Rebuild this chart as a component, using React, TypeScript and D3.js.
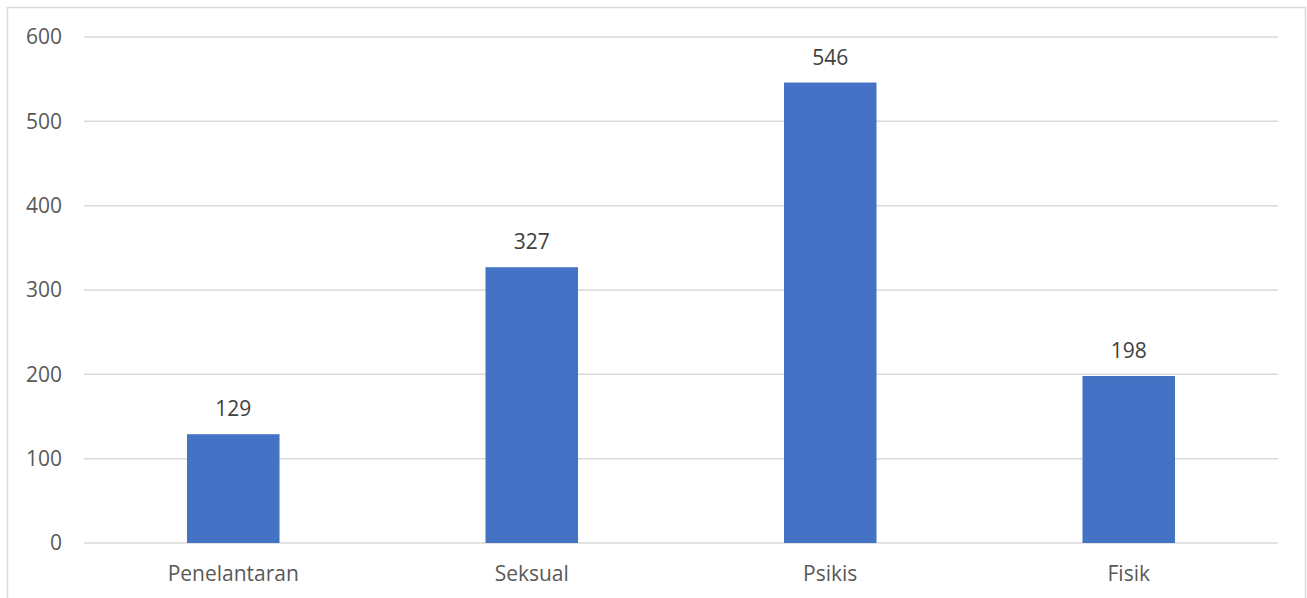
import React from "react";
import * as d3 from "d3";

const categories = ["Penelantaran", "Seksual", "Psikis", "Fisik"];
const values = [129, 327, 546, 198];
const yTicks = [0, 100, 200, 300, 400, 500, 600];

const W = 1307;
const H = 598;
const margin = { left: 84, right: 29, top: 37, bottom: 55 };
const FONT = "'Open Sans', 'Noto Sans', sans-serif";
const FS = 21;

export default function App() {
  const x = d3
    .scaleBand<string>()
    .domain(categories)
    .range([margin.left, W - margin.right])
    .paddingInner(0.69)
    .paddingOuter(0.345);
  const y = d3.scaleLinear().domain([0, 600]).range([H - margin.bottom, margin.top]);
  const band = d3
    .scaleBand<string>()
    .domain(categories)
    .range([margin.left, W - margin.right]);

  return (
    <svg
      width={W}
      height={H}
      style={{ position: "absolute", left: 0, top: 0, background: "#fff" }}
    >
      {/* chart frame */}
      <path
        d={`M7.5,${H} V7.5 H${W - 1.5} V${H}`}
        fill="none"
        stroke="#d9d9d9"
        strokeWidth={1.5}
      />
      {yTicks.map((t) => (
        <g key={t}>
          <line
            x1={margin.left}
            x2={W - margin.right}
            y1={y(t)}
            y2={y(t)}
            stroke="#d9d9d9"
            strokeWidth={1.5}
          />
          <text
            x={62}
            y={y(t)}
            dy="0.35em"
            textAnchor="end"
            fontFamily={FONT}
            fontSize={FS}
            fill="#595959"
          >
            {t}
          </text>
        </g>
      ))}
      {categories.map((c, i) => (
        <g key={c}>
          <rect
            x={x(c)}
            y={y(values[i])}
            width={x.bandwidth()}
            height={y(0) - y(values[i])}
            fill="#4472C4"
          />
          <text
            x={(x(c) as number) + x.bandwidth() / 2}
            y={y(values[i]) - 18}
            textAnchor="middle"
            fontFamily={FONT}
            fontSize={FS}
            fill="#404040"
          >
            {values[i]}
          </text>
          <text
            x={(band(c) as number) + band.bandwidth() / 2}
            y={581}
            textAnchor="middle"
            fontFamily={FONT}
            fontSize={FS}
            fill="#595959"
          >
            {c}
          </text>
        </g>
      ))}
    </svg>
  );
}
